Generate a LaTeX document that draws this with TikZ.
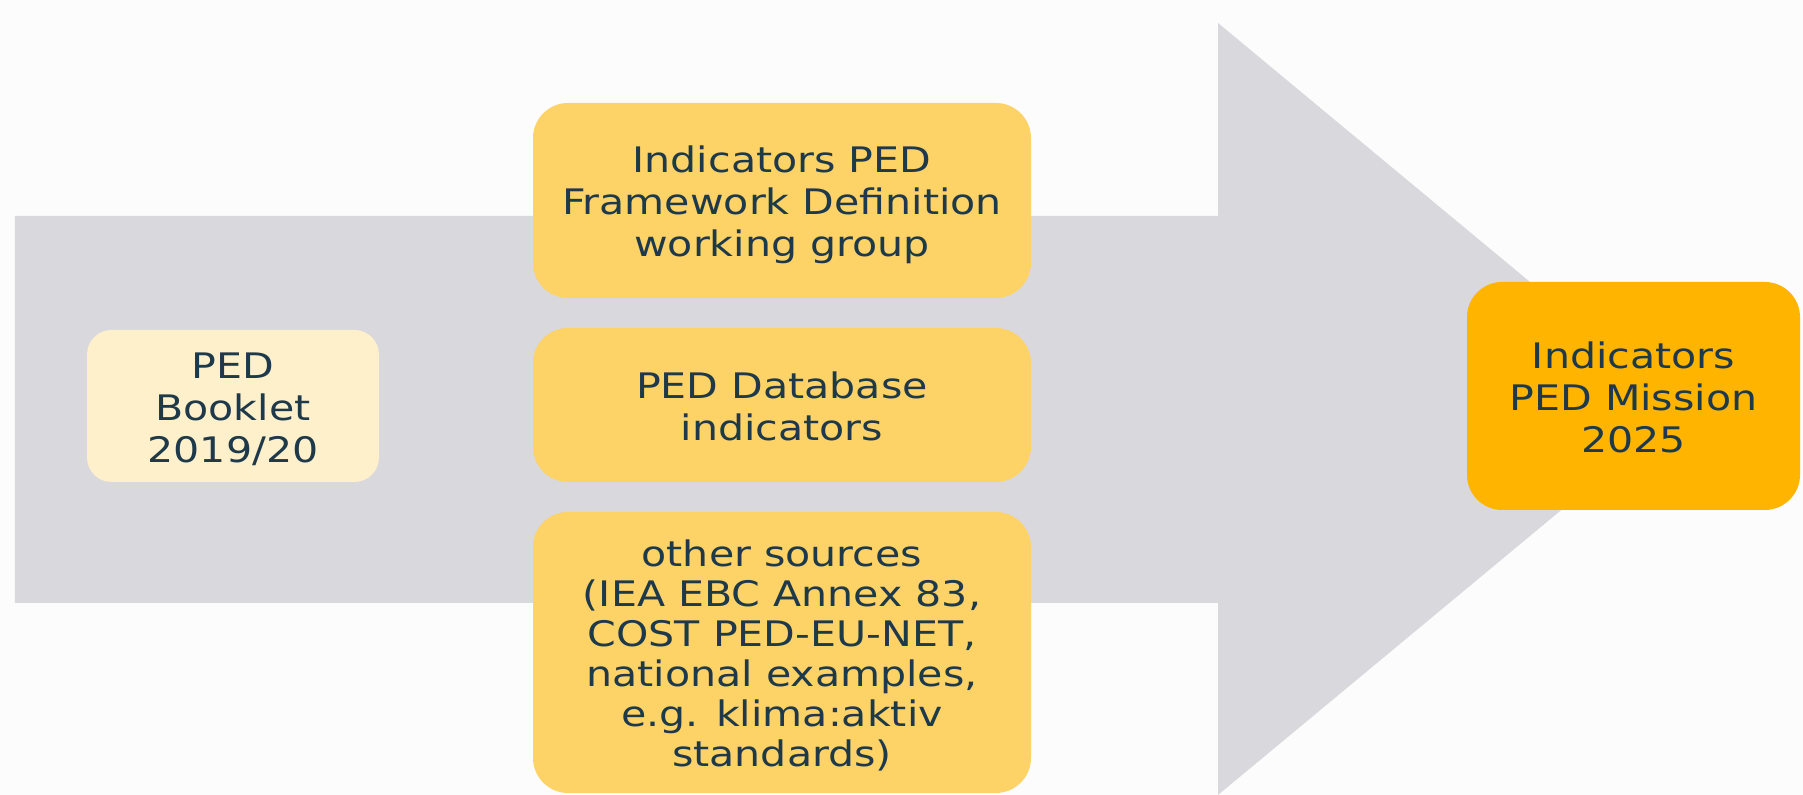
\documentclass[tikz,border=0pt]{standalone}
\usepackage{fontspec}
\setmainfont[FakeStretch=1.17]{DejaVu Sans}
\definecolor{bgwhite}{HTML}{FCFCFC}
\definecolor{arrowgray}{HTML}{D9D8DC}
\definecolor{srcyellow}{HTML}{FDD267}
\definecolor{bookcream}{HTML}{FFF0CC}
\definecolor{missionorange}{HTML}{FFB400}
\definecolor{textnavy}{HTML}{1E3A4A}
% lines of a box, set a little low as in the slide
\newcommand{\boxlines}[1]{\raisebox{-1.7pt}[\height][\depth]{%
    \begin{tabular}{@{}c@{}}#1\end{tabular}}}

\begin{document}
\begin{tikzpicture}[
    box/.style={rounded corners=10pt, inner sep=2pt,
        text=textnavy, font=\fontsize{10}{11.9}\selectfont},
    srcbox/.style={box, fill=srcyellow, minimum width=4.98cm},
    bookbox/.style={box, fill=bookcream, rounded corners=7pt,
        minimum width=2.92cm, minimum height=1.52cm},
    missionbox/.style={box, fill=missionorange,
        minimum width=3.33cm, minimum height=2.28cm}
]
    \fill[bgwhite] (0,0) rectangle (18.03,7.95);
    \useasboundingbox (0,0) rectangle (18.03,7.95);
    % big arrow
    \fill[arrowgray] (0.15,5.79) -- (12.18,5.79) -- (12.18,7.72)
        -- (16.83,3.86) -- (12.18,0) -- (12.18,1.92) -- (0.15,1.92) -- cycle;
    \node[bookbox] (booklet) at (2.33,3.89) {\boxlines{PED\\Booklet\\2019/20}};
    \node[srcbox, minimum height=1.95cm] (framework) at (7.82,5.945)
        {\boxlines{Indicators PED\\Framework Definition\\working group}};
    \node[srcbox, minimum height=1.54cm] (database) at (7.82,3.90)
        {\boxlines{PED Database\\indicators}};
    \node[srcbox, minimum height=2.81cm, font=\fontsize{10}{11.4}\selectfont] (other) at (7.82,1.425)
        {\boxlines{other sources\\(IEA EBC Annex 83,\\COST PED-EU-NET,\\national examples,\\e.g. klima:aktiv\\standards)}};
    \node[missionbox] (mission) at (16.335,3.99)
        {\boxlines{Indicators\\PED Mission\\2025}};
\end{tikzpicture}
\end{document}
